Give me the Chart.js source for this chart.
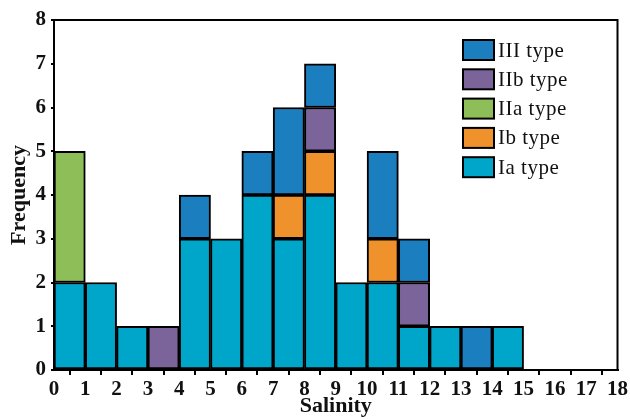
<!DOCTYPE html>
<html>
<head>
<meta charset="utf-8">
<script src="https://cdn.jsdelivr.net/npm/chart.js@4/dist/chart.umd.min.js"></script>
<style>
  html, body { margin: 0; padding: 0; background: #fff; }
  #wrap { width: 630px; height: 419px; }
</style>
</head>
<body>
<div id="wrap"><canvas id="myChart" width="630" height="419"></canvas></div>
<script>
// salinity bins (lower edge of each 1-unit bin)
const binStarts = [0, 1, 2, 3, 4, 5, 6, 7, 8, 9, 10, 11, 12, 13, 14];

// counts per type, stacked from bottom to top
const iaType  = [2, 2, 1, 0, 3, 3, 4, 3, 4, 2, 2, 1, 1, 0, 1];
const ibType  = [0, 0, 0, 0, 0, 0, 0, 1, 1, 0, 1, 0, 0, 0, 0];
const iiaType = [3, 0, 0, 0, 0, 0, 0, 0, 0, 0, 0, 0, 0, 0, 0];
const iibType = [0, 0, 0, 1, 0, 0, 0, 0, 1, 0, 0, 1, 0, 0, 0];
const iiiType = [0, 0, 0, 0, 1, 0, 1, 2, 1, 0, 2, 1, 0, 1, 0];

const seriesNames = ['Ia type', 'Ib type', 'IIa type', 'IIb type', 'III type'];
const seriesData = [iaType, ibType, iiaType, iibType, iiiType];
const seriesColors = ['#00A6C9', '#F0922B', '#8DBE57', '#7B6499', '#1A7EBF'];

const datasets = seriesData.map(function(vals, i) {
    return {
        label: seriesNames[i],
        data: binStarts.map(function(b, j) {
            return { x: b + 0.5, y: vals[j] > 0 ? vals[j] : null };
        }),
        backgroundColor: seriesColors[i],
        borderColor: '#000',
        borderWidth: 2,
        borderSkipped: false,
        barPercentage: 1,
        categoryPercentage: 1
    };
});

// draws the box round the plot and the legend inside it
const framePlugin = {
    id: 'frame',
    afterDatasetsDraw: function(chart) {
        const ctx = chart.ctx;
        const a = chart.chartArea;
        ctx.save();
        ctx.strokeStyle = '#000';
        ctx.lineWidth = 2;
        ctx.strokeRect(a.left, a.top, a.right - a.left, a.bottom - a.top);

        // legend, top type first
        const x0 = 463, y0 = 40, rowH = 29.3;
        ctx.font = '21px "Liberation Serif", serif';
        ctx.letterSpacing = '0.5px';
        ctx.textBaseline = 'middle';
        ctx.textAlign = 'left';
        for (let k = 0; k < seriesNames.length; k++) {
            const i = seriesNames.length - 1 - k;
            const y = y0 + k * rowH;
            ctx.fillStyle = seriesColors[i];
            ctx.fillRect(x0, y, 31, 20);
            ctx.strokeRect(x0, y, 31, 20);
            ctx.fillStyle = '#111';
            ctx.fillText(seriesNames[i], x0 + 35, y + 11);
        }
        ctx.restore();
    }
};

const tickFont = { family: '"Liberation Serif", serif', size: 21, weight: 'bold' };
const titleFont = { family: '"Liberation Serif", serif', size: 22, weight: 'bold' };

new Chart(document.getElementById('myChart'), {
    type: 'bar',
    data: { datasets: datasets },
    options: {
        responsive: false,
        animation: false,
        layout: { padding: { left: 0, top: 20, right: 12, bottom: 0 } },
        plugins: {
            legend: { display: false },
            tooltip: { enabled: false }
        },
        scales: {
            x: {
                type: 'linear',
                stacked: true,
                min: 0,
                max: 18,
                offset: false,
                afterFit: function(scale) { scale.height = 49; },
                ticks: {
                    stepSize: 1,
                    autoSkip: false,
                    maxRotation: 0,
                    padding: 2,
                    color: '#111',
                    font: tickFont
                },
                grid: {
                    drawOnChartArea: false,
                    drawTicks: true,
                    tickLength: 5,
                    color: '#000',
                    lineWidth: 2
                },
                border: { display: true, color: '#000', width: 2 },
                title: {
                    display: true,
                    text: 'Salinity',
                    color: '#111',
                    font: titleFont,
                    padding: { top: 0, bottom: -1 }
                }
            },
            y: {
                stacked: true,
                min: 0,
                max: 8,
                afterFit: function(scale) { scale.width = 54; },
                ticks: {
                    stepSize: 1,
                    padding: 5,
                    color: '#111',
                    font: tickFont
                },
                grid: {
                    drawOnChartArea: false,
                    drawTicks: true,
                    tickLength: 3,
                    color: '#000',
                    lineWidth: 2
                },
                border: { display: true, color: '#000', width: 2 },
                title: {
                    display: true,
                    text: 'Frequency',
                    color: '#111',
                    font: titleFont,
                    padding: { top: 6, bottom: 0 }
                }
            }
        }
    },
    plugins: [framePlugin]
});
</script>
</body>
</html>
